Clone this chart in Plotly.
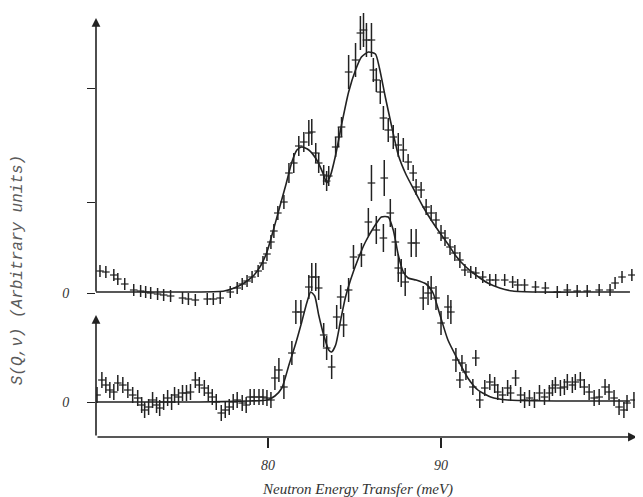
import plotly.graph_objects as go

# ---------------- data (meV, arbitrary units) ----------------
upper_offset = 109  # vertical offset of the upper spectrum's zero

upper_x = [70.29, 70.63, 71.09, 71.32, 71.72, 72.24, 72.64, 72.93, 73.22, 73.62,
           73.97, 74.37, 75.06, 75.40, 75.80, 76.49, 76.84, 77.24, 77.82, 78.22,
           78.51, 78.79, 79.08, 79.43, 79.71, 79.94, 80.17, 80.34, 80.57, 80.92,
           81.21, 81.49, 81.78, 82.07, 82.36, 82.53, 82.76, 82.93, 83.22, 83.39,
           83.51, 83.91, 84.08, 84.25, 84.66, 85.06, 85.34, 85.52, 85.69, 85.98,
           86.09, 86.26, 86.49, 86.67, 86.95, 87.24, 87.53, 87.82, 88.10, 88.39,
           88.56, 88.85, 89.14, 89.43, 89.71, 90.00, 90.23, 90.52, 90.80, 91.09,
           91.38, 91.72, 92.01, 92.41, 92.82, 93.16, 93.68, 94.14, 94.43, 94.83,
           95.46, 96.03, 96.72, 97.30, 97.87, 98.45, 99.14, 99.77, 100.06, 100.46,
           101.03]
upper_y = [22, 21, 18, 14, 9, 3, 2, 1, 0, -1,
           -2, -3, -5, -6, -7, -6, -6, -5, 1, 5,
           9, 12, 16, 22, 30, 39, 51, 62, 80, 91,
           120, 130, 147, 151, 160, 161, 140, 130, 118, 112,
           117, 146, 156, 166, 221, 233, 260, 263, 253, 253,
           223, 213, 201, 175, 163, 156, 148, 143, 131, 120,
           106, 103, 86, 80, 73, 60, 55, 46, 40, 33,
           23, 21, 20, 16, 13, 13, 13, 11, 8, 8,
           6, 5, 1, 3, 2, 2, 3, 3, 10, 16,
           18]
upper_err = [6, 6, 6, 6, 6, 6, 6, 6, 6, 6,
             6, 6, 6, 6, 6, 6, 6, 6, 6, 6,
             6, 6, 6, 6, 7, 7, 7, 7, 7, 7,
             10, 10, 10, 10, 13, 13, 10, 10, 10, 10,
             10, 10, 10, 10, 17, 17, 17, 17, 17, 17,
             12, 12, 12, 12, 12, 12, 12, 12, 8, 8,
             8, 8, 8, 8, 8, 8, 8, 8, 8, 8,
             6, 6, 6, 6, 6, 6, 6, 6, 6, 6,
             6, 6, 6, 6, 6, 6, 6, 6, 6, 6,
             6]

upper_fit_x = [70.06, 73.16, 76.03, 77.47, 78.05, 78.62, 79.20, 79.60, 79.94, 80.23,
               80.63, 81.03, 81.38, 81.67, 81.95, 82.36, 82.82, 83.22, 83.39, 83.62,
               83.91, 84.25, 84.66, 85.06, 85.40, 85.80, 86.21, 86.44, 86.78, 87.13,
               87.53, 87.99, 88.51, 88.97, 89.43, 89.94, 90.40, 90.86, 91.38, 92.01,
               92.70, 93.39, 94.14, 95.57, 99.02, 100.92]
upper_fit_y = [1, 1, 1, 2, 5, 10, 18, 28, 41, 58,
               83, 108, 131, 143, 146, 143, 133, 118, 110, 118,
               138, 168, 201, 223, 236, 241, 239, 225, 196, 168,
               138, 118, 101, 86, 73, 60, 49, 37, 27, 18,
               10, 5, 2, 1, 1, 1]

lower_x = [70.12, 70.40, 70.63, 70.86, 71.09, 71.32, 71.61, 71.90, 72.18, 72.47,
           72.70, 72.87, 73.10, 73.33, 73.56, 73.74, 73.97, 74.20, 74.43, 74.60,
           74.83, 75.06, 75.29, 75.52, 75.80, 76.03, 76.32, 76.55, 76.78, 77.01,
           77.30, 77.53, 77.76, 77.99, 78.22, 78.51, 78.74, 78.97, 79.20, 79.48,
           79.71, 79.94, 80.17, 80.40, 80.63, 80.92, 81.38, 81.61, 81.90, 82.36,
           82.53, 82.76, 82.93, 83.22, 83.39, 83.68, 83.97, 84.20, 84.37, 84.66,
           84.94, 85.40, 85.80, 85.98, 86.26, 86.67, 86.72, 87.07, 87.36, 87.53,
           87.70, 87.93, 88.28, 88.56, 88.97, 89.25, 89.43, 89.71, 90.00, 90.40,
           90.57, 90.86, 91.09, 91.21, 91.44, 91.84, 92.01, 92.24, 92.53, 92.82,
           93.10, 93.28, 93.56, 93.85, 94.02, 94.31, 94.60, 94.83, 95.11, 95.40,
           95.69, 95.98, 96.26, 96.44, 96.61, 96.90, 97.13, 97.30, 97.59, 97.76,
           98.05, 98.28, 98.56, 98.85, 99.14, 99.48, 99.71, 100.00, 100.29, 100.57,
           100.75, 101.15]
lower_y = [7, 22, 17, 12, 10, 19, 17, 12, 7, 4,
           -3, -8, -5, 2, -3, -6, 0, 4, 0, 7,
           5, 9, 9, 10, 22, 17, 14, 9, 5, 0,
           -11, -8, -5, 0, 2, -1, -3, 5, 5, 5,
           5, 4, 2, 24, 32, 15, 49, 90, 90, 115,
           125, 125, 114, 67, 54, 35, 85, 105, 77, 112,
           145, 147, 180, 219, 172, 164, 224, 189, 160, 134,
           129, 120, 159, 159, 104, 109, 114, 104, 79, 95,
           90, 42, 22, 39, 30, 15, 44, 2, 14, 20,
           17, 10, 7, 14, 9, 24, 7, 2, 4, 2,
           9, 5, 9, 14, 17, 14, 15, 20, 17, 20,
           22, 15, 10, 4, 5, 15, 10, 4, -5, -8,
           -1, 2]
lower_err = [8, 8, 8, 8, 8, 8, 8, 8, 8, 8,
             8, 8, 8, 8, 8, 8, 8, 8, 8, 8,
             8, 8, 8, 8, 8, 8, 8, 8, 8, 8,
             8, 8, 8, 8, 8, 8, 8, 8, 8, 8,
             8, 8, 8, 12, 12, 12, 12, 12, 12, 12,
             14, 14, 12, 12, 12, 12, 12, 12, 12, 12,
             12, 12, 14, 18, 14, 14, 18, 14, 14, 14,
             14, 14, 14, 14, 12, 12, 12, 12, 12, 12,
             12, 12, 8, 8, 8, 8, 8, 8, 8, 8,
             8, 8, 8, 8, 8, 8, 8, 8, 8, 8,
             8, 8, 8, 8, 8, 8, 8, 8, 8, 8,
             8, 8, 8, 8, 8, 8, 8, 8, 8, 8,
             8, 8]

lower_fit_x = [70.06, 76.03, 78.91, 79.94, 80.40, 80.80, 81.21, 81.61, 81.95, 82.24,
               82.47, 82.70, 82.93, 83.22, 83.51, 83.68, 83.91, 84.20, 84.48, 84.77,
               85.23, 85.63, 86.09, 86.55, 86.95, 87.24, 87.53, 87.82, 88.10, 88.56,
               89.14, 89.54, 89.94, 90.40, 90.98, 91.55, 92.13, 92.87, 93.85, 100.92]
lower_fit_y = [0, 0, 1, 2, 6, 14, 37, 59, 80, 99,
               110, 106, 87, 67, 52, 50, 57, 82, 105, 122,
               144, 160, 174, 185, 185, 172, 147, 130, 124, 122,
               118, 109, 87, 62, 42, 24, 12, 5, 2, 1]

x_ticks = [80, 90]
y_tick_vals = [0, 109, 200, 314]
y_tick_text = ["0", "0", "", ""]

x_range = [70.06, 101.5]
y_range = [-35, 392]
y_top_tip = 384
y_lower_tip = 87

ink = "#222222"

fig = go.Figure()

def add_series(xs, ys, errs, offset):
    fig.add_trace(go.Scatter(
        x=xs, y=[v + offset for v in ys], mode="markers",
        marker=dict(size=1, color=ink),
        error_y=dict(type="data", array=errs, visible=True, width=0,
                     thickness=1.5, color=ink),
        error_x=dict(type="constant", value=0.22, visible=True, width=0,
                     thickness=1.2, color=ink),
        hoverinfo="skip", showlegend=False, cliponaxis=False))

def add_fit(xs, ys, offset):
    fig.add_trace(go.Scatter(
        x=xs, y=[v + offset for v in ys], mode="lines",
        line=dict(color=ink, width=1.6, shape="spline", smoothing=0.6),
        hoverinfo="skip", showlegend=False, cliponaxis=False))

add_series(upper_x, upper_y, upper_err, upper_offset)
add_fit(upper_fit_x, upper_fit_y, upper_offset)
add_series(lower_x, lower_y, lower_err, 0)
add_fit(lower_fit_x, lower_fit_y, 0)

arrow_common = dict(showarrow=True, arrowhead=2, arrowsize=1.1, arrowwidth=1.6,
                    arrowcolor=ink, text="", xref="x", yref="y",
                    axref="x", ayref="y")
# upper y-axis
fig.add_annotation(x=x_range[0], y=y_top_tip, ax=x_range[0], ay=upper_offset, **arrow_common)
# lower y-axis
fig.add_annotation(x=x_range[0], y=y_lower_tip, ax=x_range[0], ay=y_range[0], **arrow_common)
# x-axis
fig.add_annotation(x=101.32, y=y_range[0], ax=x_range[0], ay=y_range[0], **arrow_common)

fig.add_annotation(text="S(Q,ν) (Arbitrary units)", textangle=-90,
                   xref="paper", yref="paper", x=-0.143, y=0.391,
                   xanchor="center", yanchor="middle", showarrow=False,
                   font=dict(family="Liberation Mono", size=16, color="#5a5a5a",
                             style="italic"))
fig.add_annotation(text="Neutron Energy Transfer (meV)",
                   xref="paper", yref="paper", x=0.48, y=-0.122,
                   xanchor="center", yanchor="middle", showarrow=False,
                   font=dict(family="Liberation Serif", size=15, color="#333333",
                             style="italic"))

# page body adds an 8px margin, so the figure is drawn 8px smaller / shifted
fig.update_layout(
    width=635, height=489, autosize=False,
    margin=dict(l=88, r=3, t=2, b=60, pad=0, autoexpand=False),
    paper_bgcolor="white", plot_bgcolor="white",
    xaxis=dict(range=x_range, showgrid=False, zeroline=False, showline=False,
               automargin=False,
               tickvals=x_ticks, ticks="outside", ticklen=10, tickwidth=1.5,
               tickcolor=ink, ticklabelstandoff=5,
               tickfont=dict(family="Liberation Serif", size=14, color="#333333",
                             style="italic")),
    yaxis=dict(range=y_range, showgrid=False, zeroline=False, showline=False,
               automargin=False,
               tickvals=y_tick_vals, ticktext=y_tick_text, ticks="outside",
               ticklen=8, tickwidth=1.2, tickcolor=ink, ticklabelstandoff=15,
               tickfont=dict(family="Liberation Serif", size=14, color="#333333",
                             style="italic")),
)

fig.write_html("out.html")
